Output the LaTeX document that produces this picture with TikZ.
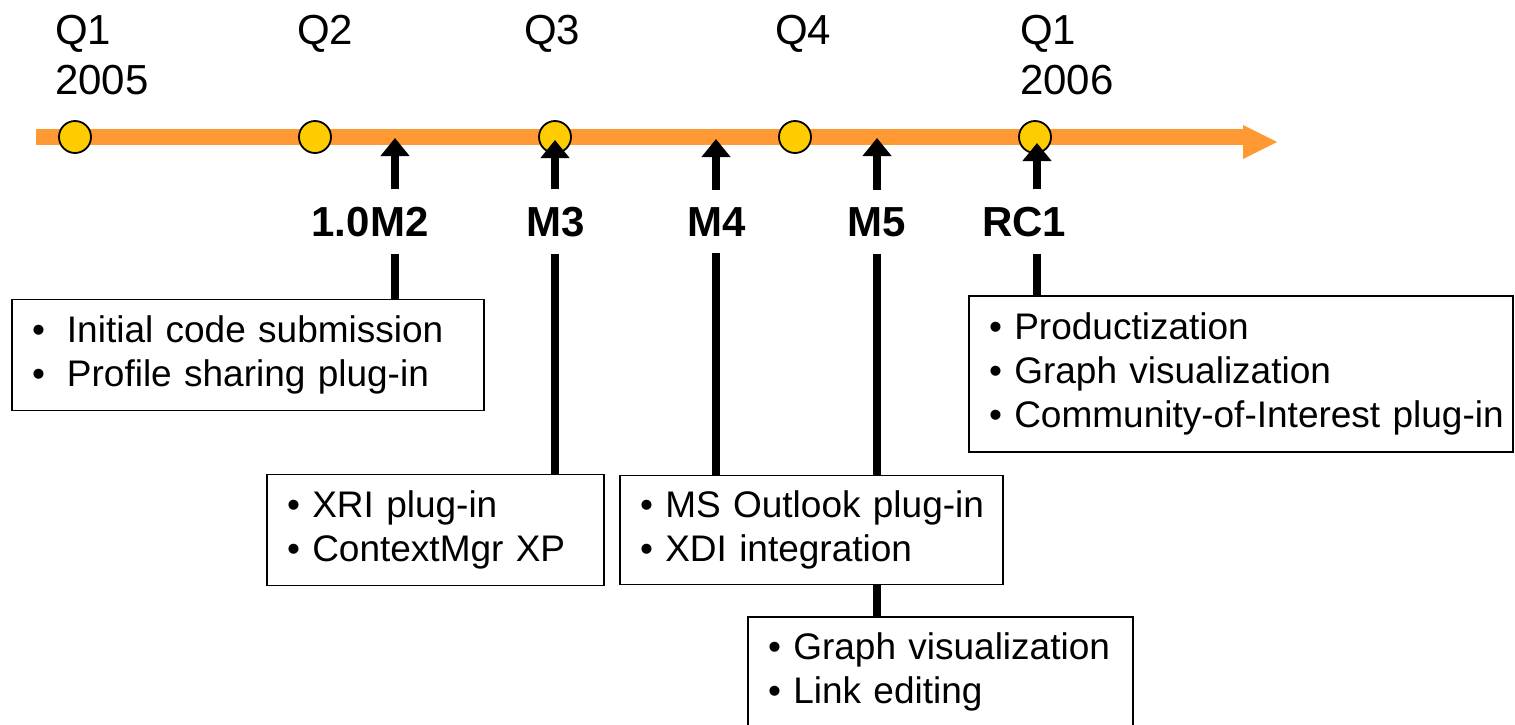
\documentclass[tikz,border=0pt]{standalone}
\usepackage{fontspec}
\setmainfont{Liberation Sans}
\usetikzlibrary{arrows.meta}
\definecolor{barorange}{HTML}{FF9933}
\definecolor{dotyellow}{HTML}{FFCC00}
\newcommand{\bitem}[1]{\mbox{\textbullet{} #1}}
\newcommand{\bitemwide}[1]{\mbox{\textbullet\hspace{22pt}#1}}
\begin{document}
\begin{tikzpicture}[x=1pt,y=-1pt,
  qlab/.style={font=\fontsize{42}{50}\selectfont, anchor=north west, inner sep=0pt, align=left},
  dot/.style={circle, draw=black, line width=1.8pt, fill=dotyellow, minimum size=32pt, inner sep=0pt},
  mlab/.style={font=\bfseries\fontsize{42}{50}\selectfont, anchor=base, inner xsep=0pt, inner ysep=17pt},
  marrow/.style={line width=8pt, -{Triangle[width=28pt,length=18pt]}},
  stem/.style={line width=8pt},
  box/.style={draw=black, line width=1.8pt, fill=white, inner xsep=20pt, inner ysep=0pt, align=left,
              font=\fontsize{37}{44}\selectfont},
  bar/.style={line width=16pt, draw=barorange}
]
\useasboundingbox (0,0) rectangle (1515,724);
% timeline
\coordinate (tlstart) at (36,137);
\coordinate (tlend) at (1246,137);
\draw[bar] (tlstart) -- (tlend);
\fill[barorange] (1243,125) -- (1277,142) -- (1243,159) -- cycle;
% quarter dots
\node[dot] (d1) at (75,137) {};
\node[dot] (d2) at (315,137) {};
\node[dot] (d3) at (555,137) {};
\node[dot] (d4) at (795,137) {};
\node[dot] (d5) at (1035,137) {};
% quarter labels
\node[qlab] (q1) at (55,15) {Q1\\2005};
\node[qlab] (q2) at (297,15) {Q2};
\node[qlab] (q3) at (524,15) {Q3};
\node[qlab] (q4) at (775,15) {Q4};
\node[qlab] (q5) at (1020,15) {Q1\\2006};
% arrow tips on the timeline
\coordinate (t2) at (395,138);
\coordinate (t3) at (555,140);
\coordinate (t4) at (716,139);
\coordinate (t5) at (877,138);
\coordinate (t6) at (1037,143);
% milestone labels
\node[mlab] (l2) at (370,236) {1.0M2};
\node[mlab] (l3) at (556,236) {M3};
\node[mlab] (l4) at (717,236) {M4};
\node[mlab] (l5) at (877,236) {M5};
\node[mlab] (l6) at (1024,236) {RC1};
% boxes
\node[box, minimum width=472pt, minimum height=111pt, text width=432pt] (b1) at (248,355)
  {\bitemwide{Initial code submission}\\\bitemwide{Profile sharing plug-in}};
\node[box, minimum width=337pt, minimum height=111pt, text width=297pt] (b2) at (435.5,530)
  {\bitem{XRI plug-in}\\\bitem{ContextMgr XP}};
\node[box, minimum width=383pt, minimum height=109pt, text width=343pt] (b3) at (811.5,530)
  {\bitem{MS Outlook plug-in}\\\bitem{XDI integration}};
\node[box, minimum width=385pt, minimum height=110pt, text width=345pt] (b4) at (940.5,672)
  {\bitem{Graph visualization}\\\bitem{Link editing}};
\node[box, minimum width=544pt, minimum height=156pt, text width=504pt] (b5) at (1241,374)
  {\bitem{Productization}\\\bitem{Graph visualization}\\\bitem{Community-of-Interest plug-in}};
% arrows up to the timeline
\draw[marrow] (l2.north -| t2) -- (t2);
\draw[marrow] (l3.north -| t3) -- (t3);
\draw[marrow] (l4.north -| t4) -- (t4);
\draw[marrow] (l5.north -| t5) -- (t5);
\draw[marrow] (l6.north -| t6) -- (t6);
% stems down to the boxes
\draw[stem] (l2.south -| t2) -- (b1.north -| t2);
\draw[stem] (l3.south -| t3) -- (b2.north -| t3);
\draw[stem] (l4.south -| t4) -- (b3.north -| t4);
\draw[stem] (l5.south -| t5) -- (b3.north -| t5);
\draw[stem] (b3.south -| t5) -- (b4.north -| t5);
\draw[stem] (l6.south -| t6) -- (b5.north -| t6);
\end{tikzpicture}
\end{document}
